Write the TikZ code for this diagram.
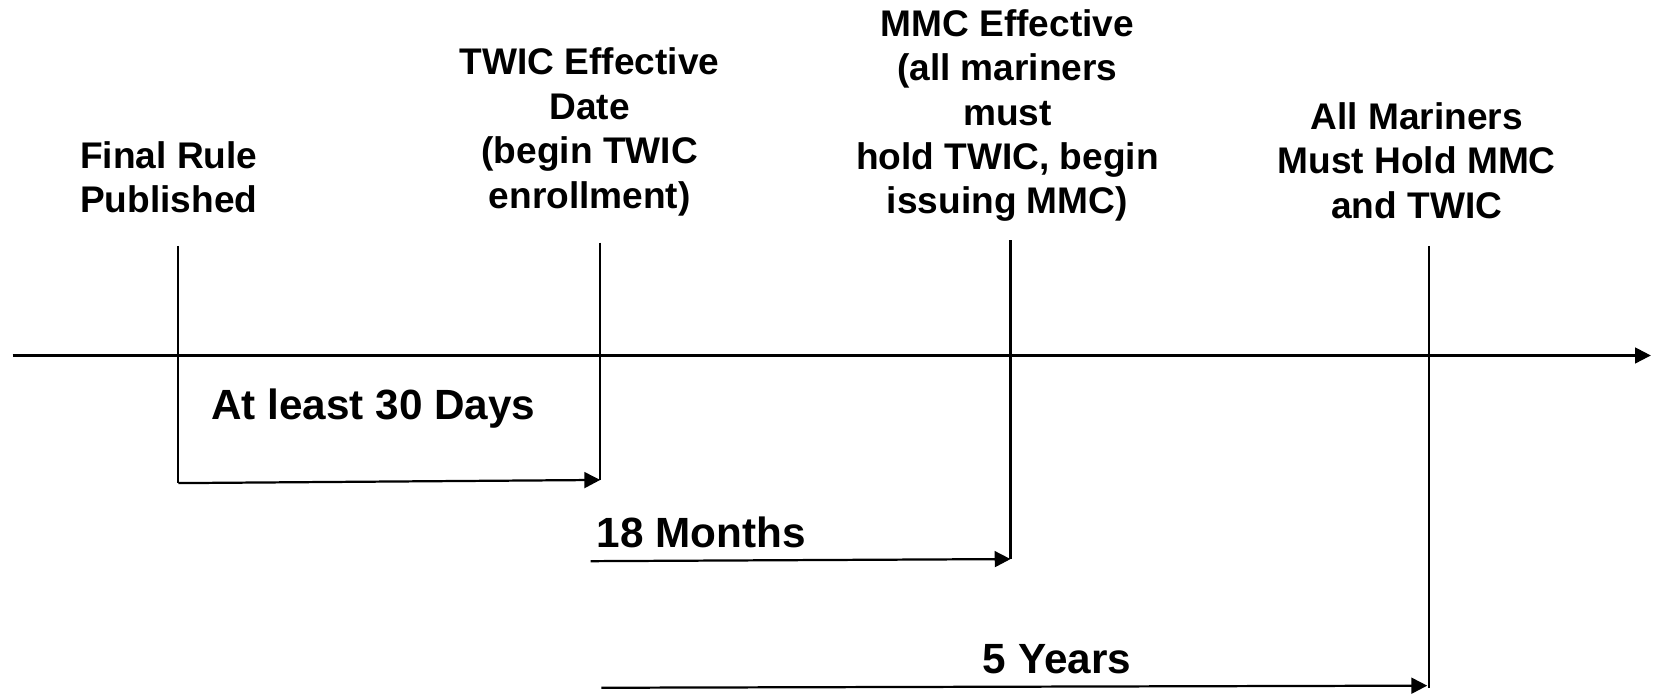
\documentclass[tikz,border=0pt]{standalone}
\usepackage{fontspec}
\setmainfont{Liberation Sans}
\usetikzlibrary{arrows.meta, positioning}

\begin{document}
\begin{tikzpicture}[
        event/.style={font=\bfseries\fontsize{10}{12}\selectfont, align=center, inner sep=0pt},
        span/.style={font=\bfseries\fontsize{11.4}{13.5}\selectfont, inner sep=0pt},
        tick/.style={line width=0.6pt},
        arrow/.style={-{Triangle[length=0.15cm, width=0.15cm]}, line width=0.6pt}
    ]
        \useasboundingbox (0,0.36) rectangle (15.68,6.94);

        % time axis
        \coordinate (start) at (0.12,3.57);
        \coordinate (end) at (15.65,3.57);
        \draw[arrow] (start) -- (end);

        % milestones
        \node[event] (rule) at (1.60,5.26) {Final Rule\\Published};
        \node[event] (twic) at (5.59,5.69) {TWIC Effective\\Date\\(begin TWIC\\enrollment)};
        \node[event] (mmc) at (9.55,5.845) {MMC Effective\\(all mariners\\must\\hold TWIC, begin\\issuing MMC)};
        \node[event] (all) at (13.43,5.42) {All Mariners\\Must Hold MMC\\and TWIC};

        \coordinate (ruletop) at (1.69,4.61);
        \coordinate (rulebot) at (1.69,2.36);
        \coordinate (twictop) at (5.69,4.64);
        \coordinate (twicbot) at (5.69,2.39);
        \coordinate (mmctop) at (9.58,4.66);
        \coordinate (mmcbot) at (9.58,1.64);
        \coordinate (alltop) at (13.55,4.61);
        \coordinate (allbot) at (13.55,0.42);
        \coordinate (allend) at (13.53,0.44);

        \draw[tick] (ruletop) -- (rulebot);
        \draw[tick] (twictop) -- (twicbot);
        \draw[tick] (mmctop) -- (mmcbot);
        \draw[tick] (alltop) -- (allbot);

        % spans
        \coordinate (monthsfrom) at (5.60,1.62);
        \coordinate (yearsfrom) at (5.70,0.42);
        \draw[arrow] (rulebot) -- (twicbot);
        \draw[arrow] (monthsfrom) -- (mmcbot);
        \draw[arrow] (yearsfrom) -- (allend);

        \node[span] (days) at (3.54,3.07) {At least 30 Days};
        \node[span] (months) at (6.65,1.89) {18 Months};
        \node[span] (years) at (10.02,0.69) {5 Years};
    \end{tikzpicture}
\end{document}
